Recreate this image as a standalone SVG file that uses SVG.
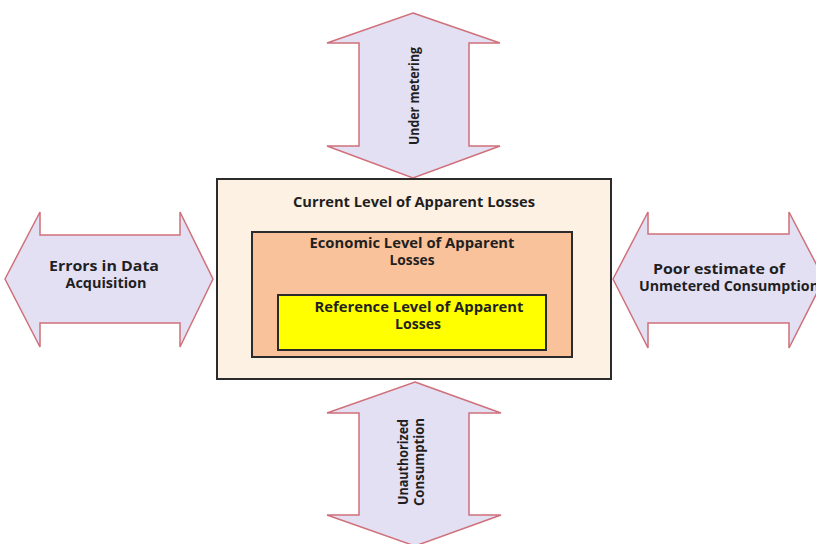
<svg xmlns="http://www.w3.org/2000/svg" width="816" height="544" viewBox="0 0 816 544">
<style>
.arrow{fill:#e4e0f4;stroke:#d0707a;stroke-width:1.5;stroke-linejoin:miter}
.t{font-family:"Open Sans","Liberation Sans",sans-serif;font-weight:700;font-size:13.5px;fill:#1f1f1f;text-anchor:middle}
.box{stroke:#2b2b2b;stroke-width:2}
</style>
<rect width="816" height="544" fill="#ffffff"/>
<g id="connectors">
<g id="arrow-top">
<polygon class="arrow" points="413,13 500,43 469,43 469,146 500,146 413,178 327,146 359,146 359,43 327,43"/>
<text class="t" transform="translate(419,96) rotate(-90)" textLength="98" lengthAdjust="spacingAndGlyphs">Under metering</text>
</g>
<g id="arrow-bottom">
<polygon class="arrow" points="415,382 501,413 469,413 469,515 501,515 415,546 327,515 359,515 359,413 327,413"/>
<text class="t" transform="translate(408,462) rotate(-90)" textLength="86" lengthAdjust="spacingAndGlyphs">Unauthorized</text>
<text class="t" transform="translate(424,462) rotate(-90)" textLength="88" lengthAdjust="spacingAndGlyphs">Consumption</text>
</g>
<g id="arrow-left">
<polygon class="arrow" points="5,279 40,212 40,235 180,235 180,212 213,279 180,347 180,323 40,323 40,347"/>
<text class="t" x="104" y="271" textLength="110" lengthAdjust="spacingAndGlyphs">Errors in Data</text>
<text class="t" x="106" y="288" textLength="81" lengthAdjust="spacingAndGlyphs">Acquisition</text>
</g>
<g id="arrow-right">
<polygon class="arrow" points="613,279 648,212 648,234 789,234 789,212 824,279 789,348 789,323 648,323 648,348"/>
<text class="t" x="719" y="274" textLength="132" lengthAdjust="spacingAndGlyphs">Poor estimate of</text>
<text class="t" x="729" y="291" textLength="180" lengthAdjust="spacingAndGlyphs">Unmetered Consumption</text>
</g>
</g>
<g id="current">
<rect class="box" x="217" y="179" width="394" height="200" fill="#fdf1e3"/>
<text class="t" x="414" y="207" textLength="242" lengthAdjust="spacingAndGlyphs">Current Level of Apparent Losses</text>
</g>
<g id="economic">
<rect class="box" x="252" y="232" width="320" height="125" fill="#f9c29a"/>
<text class="t" x="412" y="248" textLength="205" lengthAdjust="spacingAndGlyphs">Economic Level of Apparent</text>
<text class="t" x="412" y="265" textLength="45" lengthAdjust="spacingAndGlyphs">Losses</text>
</g>
<g id="reference">
<rect class="box" x="278" y="295" width="268" height="55" fill="#ffff00"/>
<text class="t" x="419" y="312" textLength="209" lengthAdjust="spacingAndGlyphs">Reference Level of Apparent</text>
<text class="t" x="418" y="329" textLength="46" lengthAdjust="spacingAndGlyphs">Losses</text>
</g>
</svg>
